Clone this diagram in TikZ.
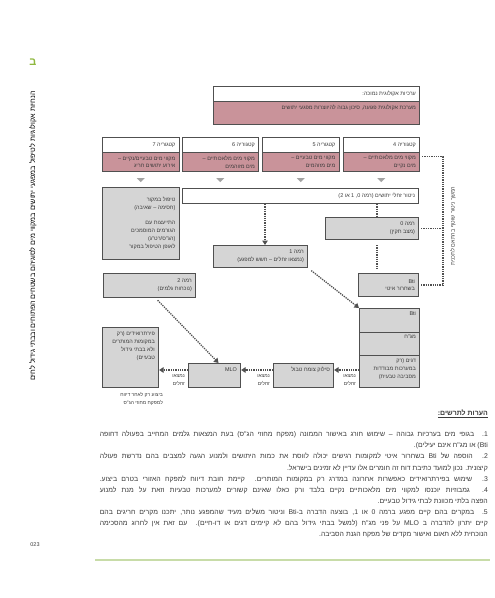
\documentclass[tikz,border=0pt]{standalone}
\usepackage{fontspec}
\usepackage{xcolor}
\usepackage{tikz}
\TeXXeTstate=1
\newfontfamily\hebfont[Script=Hebrew]{Liberation Sans}
\definecolor{ink}{HTML}{3A3A3A}
\definecolor{boxline}{HTML}{505050}
\definecolor{boxgray}{HTML}{D5D5D5}
\definecolor{rose}{HTML}{C9939A}
\definecolor{tipgray}{HTML}{A3A3A3}
\definecolor{leaf}{HTML}{8FB83F}
\definecolor{leafline}{HTML}{C8DCA8}
\tikzset{
    cell/.style 2 args={draw=boxline, line width=1.1bp, rectangle, minimum width=#1, minimum height=#2, inner sep=0pt, anchor=north west},
    whitebox/.style={fill=white},
    rosebox/.style={fill=rose},
    greybox/.style={fill=boxgray},
    txt/.style={font=\hebfont\fontsize{5.5}{8}\selectfont, text=ink, align=right, inner sep=0pt},
    found/.style={txt, anchor=north east, font=\hebfont\fontsize{5}{8.5}\selectfont},
    link/.style={densely dotted, line width=1.3bp, draw=boxline},
    flow/.style={link, -{Triangle[length=4.5bp, width=5.5bp]}} }
\usetikzlibrary{positioning, arrows.meta}
\newcommand{\he}[1]{\beginR #1\endR}
\newcommand{\fullline}[1]{\hbox to 388bp{\beginR #1\endR}}
\newcommand{\lastline}[1]{\hbox to 388bp{\hfill\beginR #1\endR}}

\begin{document}
\begin{tikzpicture}[x=1bp, y=-1bp]
	\useasboundingbox (0,0) rectangle (495,598);
	% page
	\node[font=\hebfont\bfseries\fontsize{11}{11}\selectfont, text=leaf] (letter) at (33,62) {\he{ב}};
	\node[txt, rotate=90, text=black, font=\hebfont\fontsize{7.2}{8}\selectfont] (spine) at (33,236) {\he{הנחיות אקולוגיות לטיפול במפגעי יתושים במקווי מים לסוגיהם בשטחים הפתוחים ובבתי גידול לחים}};
	\node[txt] (folio) at (35,545) {023};
	\draw[leafline, line width=2bp] (95,560) -- (490,560);
	% ----
	\node[cell={206bp}{15bp}, whitebox] (ecoH) at (213,86) {};
	\node[cell={206bp}{23bp}, rosebox] (ecoB) at (213,101) {};
	\node[txt, anchor=east] (ecoHt) at ([xshift=-4bp]ecoH.east) {\he{ערכיות אקולוגית נמוכה:}};
	\node[txt, anchor=north east] (ecoBt) at ([shift={(-4bp,-4bp)}]ecoB.north east) {\he{מערכת אקולוגית פגועה, סיכון גבוה להיווצרות מפגעי יתושים}};
	% ----
	\node[cell={76.5bp}{15bp}, whitebox] (c7h) at (102,137) {};
	\node[cell={76.5bp}{19bp}, rosebox] (c7b) at (102,152) {};
	\node[cell={76.5bp}{15bp}, whitebox] (c6h) at (181.5,137) {};
	\node[cell={76.5bp}{19bp}, rosebox] (c6b) at (181.5,152) {};
	\node[cell={76.5bp}{15bp}, whitebox] (c5h) at (262,137) {};
	\node[cell={76.5bp}{19bp}, rosebox] (c5b) at (262,152) {};
	\node[cell={76.5bp}{15bp}, whitebox] (c4h) at (342.5,137) {};
	\node[cell={76.5bp}{19bp}, rosebox] (c4b) at (342.5,152) {};
	\node[txt, anchor=east] (c7ht) at ([xshift=-4bp]c7h.east) {\he{קטגוריה 7}};
	\node[txt, anchor=east] (c6ht) at ([xshift=-4bp]c6h.east) {\he{קטגוריה 6}};
	\node[txt, anchor=east] (c5ht) at ([xshift=-4bp]c5h.east) {\he{קטגוריה 5}};
	\node[txt, anchor=east] (c4ht) at ([xshift=-4bp]c4h.east) {\he{קטגוריה 4}};
	\node[txt, anchor=east] (c7bt) at ([xshift=-4bp]c7b.east) {\he{מקווי מים טבעיים/נקיים –}\\\he{אירוע יתושים חריג}};
	\node[txt, anchor=east] (c6bt) at ([xshift=-4bp]c6b.east) {\he{מקווי מים מלאכותיים –}\\\he{מים מזוהמים}};
	\node[txt, anchor=east] (c5bt) at ([xshift=-4bp]c5b.east) {\he{מקווי מים טבעיים –}\\\he{מים מזוהמים}};
	\node[txt, anchor=east] (c4bt) at ([xshift=-4bp]c4b.east) {\he{מקווי מים מלאכותיים –}\\\he{מים נקיים}};
	\foreach \c in {c7b,c6b,c5b,c4b}
		\fill[tipgray] ([yshift=-6bp]\c.south) ++(-4bp,0) -- ++(8bp,0) -- ++(-4bp,-4bp) -- cycle;
	% ----
	\node[cell={236bp}{15bp}, whitebox] (watch) at (182,188) {};
	\node[txt, anchor=east] (watcht) at ([xshift=-4bp]watch.east) {\he{ניטור זחלי יתושים (רמה 0, 1 או 2)}};
	\node[cell={76.5bp}{72bp}, greybox] (source) at (102,187) {};
	\node[txt, anchor=north east] (sourcet) at ([shift={(-4bp,-10bp)}]source.north east) {\he{טיפול במקור}\\\he{(חסימה – שאיבה)}\\[7bp]\he{התייעצות עם}\\\he{הגורמים המוסמכים}\\\he{(הג"ס/רט"ג)}\\\he{לאופן הטיפול במקור}};
	\node[cell={93bp}{22bp}, greybox] (lvl0) at (325,217) {};
	\node[txt, anchor=east] (lvl0t) at ([xshift=-4bp]lvl0.east) {\he{רמה 0}\\\he{(מצב תקין)}};
	\node[cell={94bp}{22bp}, greybox] (lvl1) at (213,245) {};
	\node[txt, anchor=east] (lvl1t) at ([xshift=-4bp]lvl1.east) {\he{רמה 1}\\\he{(נמצאו זחלים – חשש למפגע)}};
	\node[cell={92bp}{24bp}, greybox] (lvl2) at (103,273) {};
	\node[txt, anchor=east] (lvl2t) at ([xshift=-4bp]lvl2.east) {\he{רמה 2}\\\he{(נוכחות גלמים)}};
	\node[cell={60bp}{23bp}, greybox] (slow) at (358,273) {};
	\node[txt, anchor=east] (slowt) at ([xshift=-4bp]slow.east) {Bti\\\he{בשחרור איטי}};
	% ----
	\node[cell={60bp}{24bp}, greybox] (stkA) at (359,308) {};
	\node[cell={60bp}{23bp}, greybox] (stkB) at (359,332) {};
	\node[cell={60bp}{32bp}, greybox] (stkC) at (359,355) {};
	\node[txt, anchor=north east] (stkAt) at ([shift={(-4bp,-3bp)}]stkA.north east) {Bti};
	\node[txt, anchor=north east] (stkBt) at ([shift={(-4bp,-3bp)}]stkB.north east) {\he{מג"ח}};
	\node[txt, anchor=north east] (stkCt) at ([shift={(-4bp,-3bp)}]stkC.north east) {\he{דגים (רק}\\\he{במערכות מבודדות}\\\he{מסביבה טבעית)}};
	\node[cell={60bp}{24bp}, greybox] (weed) at (273,363) {};
	\node[txt, anchor=north east] (weedt) at ([shift={(-4bp,-4bp)}]weed.north east) {\he{סילוק צומח טבול}};
	\node[cell={52bp}{24bp}, greybox] (mlo) at (188,363) {};
	\node[txt, anchor=north east] (mlot) at ([shift={(-4bp,-4bp)}]mlo.north east) {MLO};
	\node[cell={56bp}{60bp}, greybox] (pyr) at (102,327) {};
	\node[txt, anchor=north east] (pyrt) at ([shift={(-4bp,-4bp)}]pyr.north east) {\he{פירתרואידים (רק}\\\he{במקומות המותרים}\\\he{ולא בבתי גידול}\\\he{טבעיים)}};
	\node[found] (pyrnote) at ([shift={(4bp,-4bp)}]pyr.south east) {\he{ביצוע רק לאחר דיווח}\\\he{למפקח מחוזי הג"ס}};
	% ----
	\coordinate (row) at (0,370);
	\coordinate (drop) at (265,0);
	\coordinate (rise) at (377,0);
	\coordinate (rail) at (443,0);
	\draw[flow] (drop |- watch.south) -- (drop |- lvl1.north);
	\draw[link] (rise |- watch.south) -- (rise |- lvl0.north);
	\draw[link, shorten <=5bp, shorten >=4bp] (rise |- lvl0.south) -- (rise |- slow.north);
	\draw[link, shorten <=2bp] ([yshift=-4.5bp]c4b.north east) -| (rail |- slow.east);
	\draw[link, shorten <=2bp] (lvl0.east) -- (rail |- lvl0.east);
	\draw[link, shorten <=2bp] (slow.east) -- (rail |- slow.east);
	\node[txt, rotate=90, font=\hebfont\fontsize{5.5}{6}\selectfont] (keep) at (453,226) {\he{המשך ניטור שוטף בהתאם לתכנית}};
	\draw[flow, shorten <=3bp] ([xshift=6bp]lvl2.south) -- ([xshift=4bp]mlo.north);
	\draw[flow, shorten <=4bp] (lvl1.south east) -- (stkA.north west);
	\draw[flow] (stkC.west |- row) -- (weed.east |- row);
	\draw[flow] (weed.west |- row) -- (mlo.east |- row);
	\draw[flow] (mlo.west |- row) -- (pyr.east |- row);
	\node[found] (found1) at (356,374) {\he{נמצאו}\\\he{זחלים}};
	\node[found] (found2) at (270,374) {\he{נמצאו}\\\he{זחלים}};
	\node[found] (found3) at (185,374) {\he{נמצאו}\\\he{זחלים}};
	% ----
	\node[txt, anchor=east, font=\hebfont\bfseries\fontsize{7}{8}\selectfont] (notehead) at (488,414) {\underline{\he{הערות לתרשים:}}};
	\node[anchor=north east, inner sep=0pt, text=ink, font=\hebfont\fontsize{6.9}{11.1}\selectfont] (notes) at (488,431) {\vbox{\baselineskip=11.1bp
		\fullline{1. בגופי מים בערכיות גבוהה – שימוש חורג באישור הממונה (מפקח מחוזי הג"ס) בעת המצאות גלמים המחייב בפעולה דחופה}
		\lastline{(Bti או מג"ח אינם יעילים).}
		\fullline{2. הוספה של Bti בשחרור איטי למקומות רגישים יכולה לווסת את כמות היתושים ולמנוע הגעה למצבים בהם נדרשת פעולה}
		\lastline{קיצונית. נכון למועד כתיבת דוח זה חומרים אלו עדיין לא זמינים בישראל.}
		\fullline{3. שימוש בפירתרואידים כאפשרות אחרונה במדרג רק במקומות המותרים. קיימת חובת דיווח למפקח האזורי בטרם ביצוע.}
		\fullline{4. גמבוזיות יוכנסו למקווי מים מלאכותיים נקיים בלבד ורק כאלו שאינם קשורים למערכות טבעיות וזאת על מנת למנוע}
		\lastline{הפצה בלתי מכוונת לבתי גידול טבעיים.}
		\fullline{5. במקרים בהם קיים מפגע ברמה 0 או 1, בוצעה הדברה ב-Bti וניטור משלים מעיד שהמפגע נותר, יתכנו מקרים חריגים בהם}
		\fullline{קיים יתרון להדברה ב MLO על פני מג"ח (למשל בבתי גידול בהם לא קיימים דגים או דו-חיים). עם זאת אין לחרוג מהסכימה}
		\lastline{הנוכחית ללא תאום ואישור מקדים של מפקח הגנת הסביבה.}}};
\end{tikzpicture}
\end{document}
